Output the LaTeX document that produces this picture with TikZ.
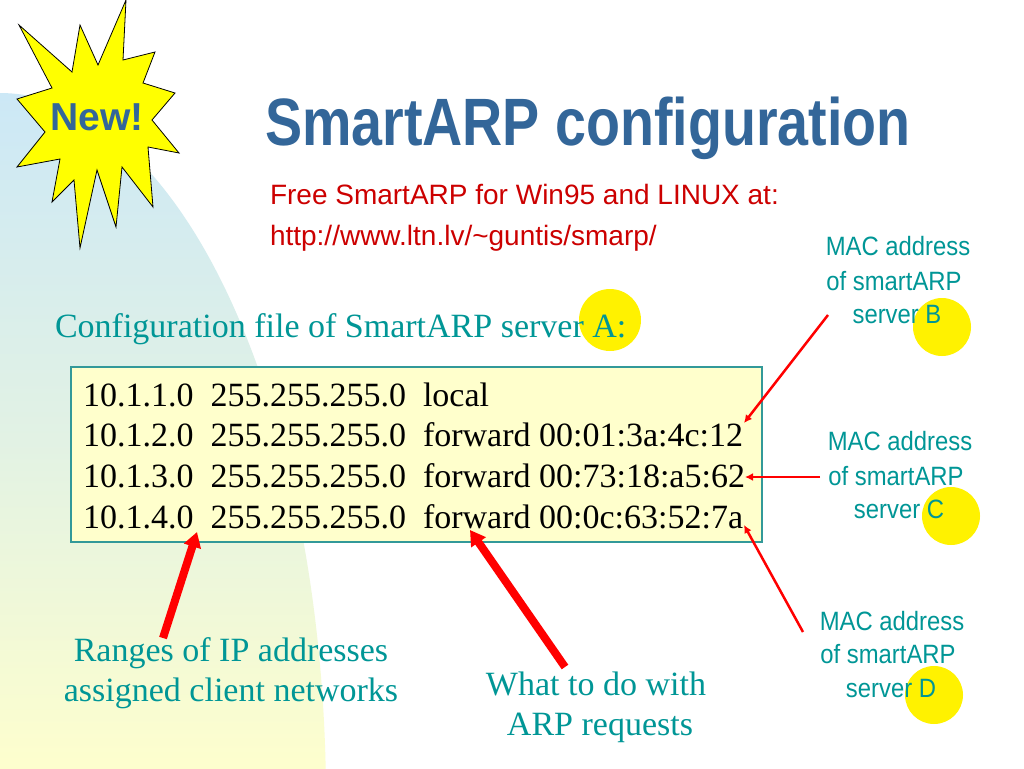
\documentclass[tikz,border=0pt]{standalone}
\usepackage{fontspec}
\setmainfont{Liberation Serif}
\newfontfamily\arialf{Liberation Sans}
\newfontfamily\macf[FakeStretch=0.9]{Liberation Sans}
\newfontfamily\titlef[FakeStretch=0.83]{Liberation Sans}
\usetikzlibrary{arrows.meta}
\definecolor{titleblue}{RGB}{51,102,153}
\definecolor{linkred}{RGB}{204,0,0}
\definecolor{tealtxt}{RGB}{0,150,150}
\definecolor{boxfill}{RGB}{255,255,204}
\definecolor{boxline}{RGB}{51,153,153}
\definecolor{bgblue}{RGB}{204,232,246}
\definecolor{bgmid}{RGB}{226,242,228}
\definecolor{bgyellow}{RGB}{255,255,204}
\definecolor{arrred}{RGB}{255,0,0}
\definecolor{staryellow}{RGB}{255,255,0}
\tikzset{
  txt/.style={inner sep=0pt, outer sep=0pt},
  rowtxt/.style={txt, anchor=base west, font=\fontsize{34}{40}\selectfont},
  teallbl/.style={txt, anchor=base, text=tealtxt, font=\fontsize{34}{40}\selectfont},
  maclbl/.style={txt, anchor=base, text=tealtxt, font=\macf\fontsize{26.5}{32}\selectfont},
  hilite/.style={circle, fill=yellow, draw=none, minimum size=60pt, inner sep=0pt},
  thinarrow/.style={draw=arrred, line width=2.5pt, -{Latex[length=8pt,width=8pt]}},
  thickarrow/.style={draw=arrred, line width=8pt, -{Triangle[length=15pt,width=17pt]}},
}
\begin{document}
\begin{tikzpicture}[x=1pt,y=-1pt]
\useasboundingbox (0,0) rectangle (1024,768);
\fill[white] (0,0) rectangle (1024,768);
% background curved region
\shade[top color=bgblue, bottom color=bgyellow, middle color=bgmid]
  (0,770) -- plot[domain=90:1,samples=90] ({326*cos(\x)},{800-707*sin(\x)}) -- (326,770) -- cycle;
% star
\draw[fill=staryellow, draw=black, line width=0.8pt]
  (126,0) -- (123,60) -- (155,52) -- (143,83) -- (175,93) -- (152,120) -- (179,153)
  -- (148,147) -- (153,207) -- (122,167) -- (116,227) -- (97,170) -- (80,248)
  -- (74,180) -- (52,202) -- (60,159) -- (17,167) -- (45,132) -- (17,99)
  -- (52,88) -- (19,25) -- (72,72) -- (80,25) -- (98,65) -- cycle;
\node[txt, anchor=base, text=titleblue, font=\arialf\bfseries\fontsize{39}{46}\selectfont] (new) at (97,130) {New!};
% title and subtitle
\node[txt, anchor=base west, text=titleblue, font=\titlef\bfseries\fontsize{67}{80}\selectfont] (title) at (265,145) {SmartARP configuration};
\node[txt, anchor=base west, text=linkred, font=\arialf\fontsize{28}{34}\selectfont] (free) at (270,204) {Free SmartARP for Win95 and LINUX at:};
\node[txt, anchor=base west, text=linkred, font=\arialf\fontsize{28}{34}\selectfont] (url) at (270,245) {http://www.ltn.lv/\char`\~guntis/smarp/};
% highlight circles
\node[hilite, minimum size=62pt] (circA) at (610,320) {};
\node[hilite, minimum size=58pt] (circB) at (942,327) {};
\node[hilite, minimum size=58pt] (circC) at (951,516) {};
\node[hilite, minimum size=58pt] (circD) at (934,695) {};
% heading of config file
\node[txt, anchor=base west, text=tealtxt, font=\fontsize{34}{40}\selectfont] (cfghead) at (55,337) {Configuration file of SmartARP server A:};
% config box
\node[txt, anchor=north west, draw=boxline, fill=boxfill, line width=1.5pt, minimum width=691pt, minimum height=175pt] (cfg) at (71,367) {};
\node[rowtxt] (row1) at (83,406) {10.1.1.0\ \ 255.255.255.0\ \ local};
\node[rowtxt] (row2) at (83,446) {10.1.2.0\ \ 255.255.255.0\ \ forward 00:01:3a:4c:12};
\node[rowtxt] (row3) at (83,487) {10.1.3.0\ \ 255.255.255.0\ \ forward 00:73:18:a5:62};
\node[rowtxt] (row4) at (83,528) {10.1.4.0\ \ 255.255.255.0\ \ forward 00:0c:63:52:7a};
% MAC labels
\node[maclbl] (b1) at (898,255) {MAC address};
\node[maclbl] (b2) at (894,290) {of smartARP};
\node[maclbl] (b3) at (897,323) {server B};
\node[maclbl] (c1) at (900,450) {MAC address};
\node[maclbl] (c2) at (896,485) {of smartARP};
\node[maclbl] (c3) at (899,518) {server C};
\node[maclbl] (d1) at (892,630) {MAC address};
\node[maclbl] (d2) at (888,663) {of smartARP};
\node[maclbl] (d3) at (891,697) {server D};
% bottom labels
\node[teallbl] (r1) at (231,661) {Ranges of IP addresses};
\node[teallbl] (r2) at (231,701) {assigned client networks};
\node[teallbl] (w1) at (596,695) {What to do with};
\node[teallbl] (w2) at (600,735) {ARP requests};
% arrow end points
\coordinate (tailB) at (828,315);
\coordinate (tipB) at (744,423);
\coordinate (tailC) at (820,477);
\coordinate (tipC) at (745,477);
\coordinate (tailD) at (803,632);
\coordinate (tipD) at (744,525);
\coordinate (tailR) at (163,638);
\coordinate (tipR) at (197,532);
\coordinate (tailW) at (565,667);
\coordinate (tipW) at (470,530);
\draw[thinarrow] (tailB) -- (tipB);
\draw[thinarrow] (tailC) -- (tipC);
\draw[thinarrow] (tailD) -- (tipD);
\draw[thickarrow] (tailR) -- (tipR);
\draw[thickarrow] (tailW) -- (tipW);
\end{tikzpicture}
\end{document}
